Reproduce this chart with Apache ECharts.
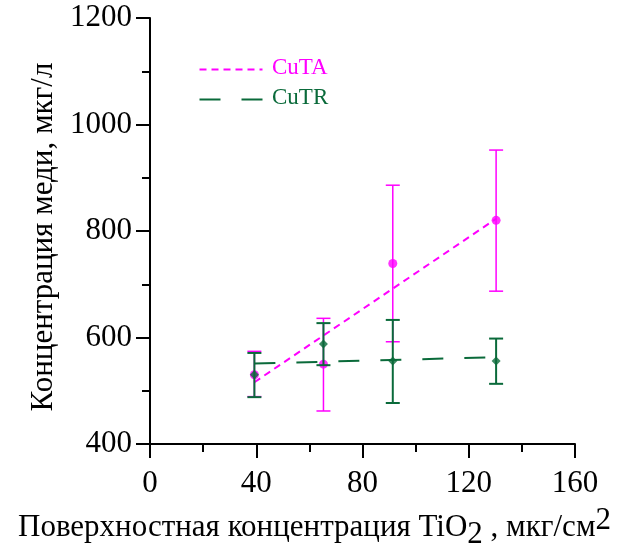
<!DOCTYPE html>
<html>
<head>
<meta charset="utf-8">
<script src="https://cdn.jsdelivr.net/npm/echarts@6/dist/echarts.min.js"></script>
<style>html,body{margin:0;padding:0;background:#fff;}#c{width:635px;height:551px;}</style>
</head>
<body>
<div id="c"></div>
<script>
// ---- data ----
var xVals = [39.3, 65.3, 91.4, 130.3];
var cutaMean = [530, 550, 739, 820];
var cutaLow = [489, 462, 592, 687];
var cutaHigh = [574, 636, 886, 952];
var cutrMean = [530, 588, 556, 556];
var cutrLow = [488, 548, 477, 513];
var cutrHigh = [571, 627, 633, 598];
var trendX = [39.3, 130.3];
var cutaTrend = [516, 823];
var cutrTrend = [551, 563];
var xTicks = [0, 40, 80, 120, 160];
var yTicks = [400, 600, 800, 1000, 1200];
var seriesNames = ['CuTA', 'CuTR'];

var MAG = '#ff00ff';
var GRN = '#0a6a3a';
var FONT = 'Liberation Serif';
var FS = 31;

function pts(xs, ys) { return xs.map(function (x, i) { return [x, ys[i]]; }); }
function errData(xs, lo, hi) { return xs.map(function (x, i) { return [x, lo[i], hi[i]]; }); }

function errBar(color, width, capW) {
  return function (params, api) {
    var x = api.value(0);
    var lo = api.coord([x, api.value(1)]);
    var hi = api.coord([x, api.value(2)]);
    var st = { stroke: color, lineWidth: width };
    return {
      type: 'group',
      children: [
        { type: 'line', shape: { x1: lo[0], y1: lo[1], x2: hi[0], y2: hi[1] }, style: st },
        { type: 'line', shape: { x1: lo[0] - capW / 2, y1: lo[1], x2: lo[0] + capW / 2, y2: lo[1] }, style: st },
        { type: 'line', shape: { x1: hi[0] - capW / 2, y1: hi[1], x2: hi[0] + capW / 2, y2: hi[1] }, style: st }
      ]
    };
  };
}

var chart = echarts.init(document.getElementById('c'), null, { renderer: 'canvas' });
var labelStyle = { fontFamily: FONT, fontSize: FS, color: '#000', formatter: function (v) { return String(v); } };

chart.setOption({
  animation: false,
  backgroundColor: '#fff',
  grid: { left: 150, right: 60, top: 18, bottom: 107, containLabel: false, outerBoundsMode: 'none' },
  xAxis: {
    type: 'value', min: xTicks[0], max: xTicks[xTicks.length - 1], interval: 40,
    axisLine: { show: true, onZero: false, lineStyle: { color: '#000', width: 2 } },
    axisTick: { show: true, length: 14, lineStyle: { color: '#000', width: 2 } },
    minorTick: { show: true, splitNumber: 2, length: 8, lineStyle: { color: '#000', width: 2 } },
    splitLine: { show: false },
    axisLabel: Object.assign({ margin: 24 }, labelStyle),
    name: '{a|Поверхностная концентрация TiO}{sub|2}{a| , мкг/см}{sup|2}',
    nameLocation: 'middle', nameGap: 68,
    nameTextStyle: {
      fontFamily: FONT, fontSize: FS, color: '#000', padding: [0, 96, 0, 0],
      rich: {
        a: { fontFamily: FONT, fontSize: FS, color: '#000', lineHeight: 32 },
        sub: { fontFamily: FONT, fontSize: FS, color: '#000', lineHeight: 32, padding: [14, 0, 0, 0] },
        sup: { fontFamily: FONT, fontSize: FS, color: '#000', lineHeight: 32, padding: [0, 0, 14, 0] }
      }
    }
  },
  yAxis: {
    type: 'value', min: yTicks[0], max: yTicks[yTicks.length - 1], interval: 200,
    axisLine: { show: true, onZero: false, lineStyle: { color: '#000', width: 2 } },
    axisTick: { show: true, length: 14, lineStyle: { color: '#000', width: 2 } },
    minorTick: { show: true, splitNumber: 2, length: 8, lineStyle: { color: '#000', width: 2 } },
    splitLine: { show: false },
    axisLabel: Object.assign({ margin: 18 }, labelStyle),
    name: 'Концентрация меди, мкг/л',
    nameLocation: 'middle', nameRotate: 90, nameGap: 90,
    nameTextStyle: { fontFamily: FONT, fontSize: FS, color: '#000', padding: [0, 12, 0, 0] }
  },
  graphic: [
    { type: 'line', left: 197, top: 67, shape: { x1: 0, y1: 0, x2: 63, y2: 0 }, style: { stroke: MAG, lineWidth: 2, lineDash: [7, 5] } },
    { type: 'text', left: 272, top: 56, style: { text: seriesNames[0], fontFamily: FONT, fontSize: 23, fill: MAG } },
    { type: 'line', left: 197, top: 97, shape: { x1: 0, y1: 0, x2: 63, y2: 0 }, style: { stroke: GRN, lineWidth: 2, lineDash: [21, 21] } },
    { type: 'text', left: 272, top: 86, style: { text: seriesNames[1], fontFamily: FONT, fontSize: 23, fill: GRN } }
  ],
  series: [
    { name: 'CuTA trend', type: 'line', data: pts(trendX, cutaTrend), symbol: 'none', z: 2,
      lineStyle: { color: MAG, width: 2, type: [7, 5] } },
    { name: 'CuTA err', type: 'custom', renderItem: errBar(MAG, 1.5, 14), data: errData(xVals, cutaLow, cutaHigh), z: 3 },
    { name: 'CuTA', type: 'scatter', data: pts(xVals, cutaMean), symbol: 'circle', symbolSize: 9,
      itemStyle: { color: MAG }, z: 4 },
    { name: 'CuTR trend', type: 'line', data: pts(trendX, cutrTrend), symbol: 'none', z: 5,
      lineStyle: { color: GRN, width: 2, type: [21, 21] } },
    { name: 'CuTR err', type: 'custom', renderItem: errBar(GRN, 2, 14), data: errData(xVals, cutrLow, cutrHigh), z: 6 },
    { name: 'CuTR', type: 'scatter', data: pts(xVals, cutrMean), symbol: 'diamond', symbolSize: 9,
      itemStyle: { color: GRN }, z: 7 }
  ]
});
</script>
</body>
</html>
